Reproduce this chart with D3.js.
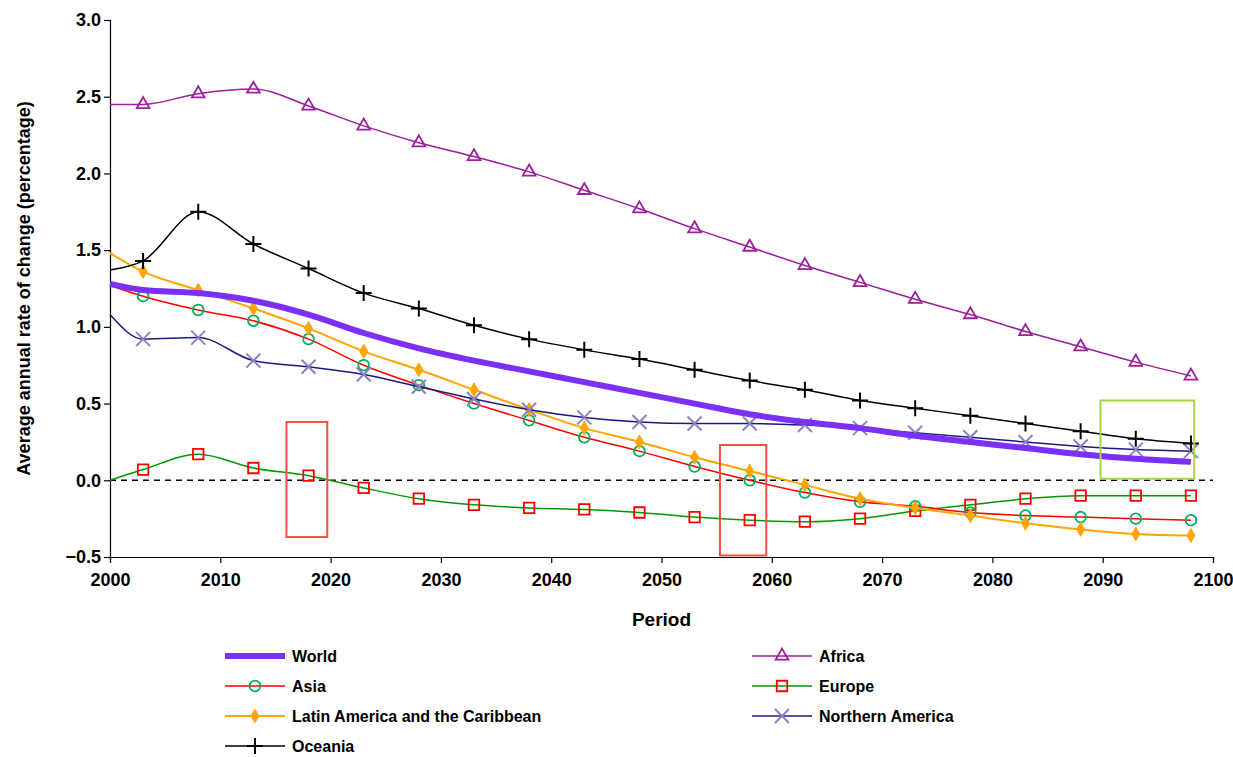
<!DOCTYPE html><html><head><meta charset="utf-8">
<script src="https://cdn.jsdelivr.net/npm/d3@7"></script>
<style>body{margin:0;background:#fff}text{font-family:"Liberation Sans",Arial,sans-serif;font-weight:bold}</style></head>
<body><svg id="c" width="1233" height="757"></svg>
<script>
const years=[2000,2003,2008,2013,2018,2023,2028,2033,2038,2043,2048,2053,2058,2063,2068,2073,2078,2083,2088,2093,2098];
const world=[1.28,1.24,1.22,1.17,1.08,0.96,0.86,0.78,0.71,0.64,0.57,0.50,0.43,0.38,0.34,0.29,0.25,0.21,0.17,0.14,0.12];
const africa=[2.45,2.45,2.52,2.55,2.44,2.31,2.20,2.11,2.01,1.89,1.77,1.64,1.52,1.40,1.29,1.18,1.08,0.97,0.87,0.77,0.68];
const asia=[1.27,1.20,1.11,1.04,0.92,0.75,0.62,0.50,0.39,0.28,0.19,0.09,0.00,-0.08,-0.14,-0.17,-0.21,-0.23,-0.24,-0.25,-0.26];
const europe=[0.0,0.07,0.17,0.08,0.03,-0.05,-0.12,-0.16,-0.18,-0.19,-0.21,-0.24,-0.26,-0.27,-0.25,-0.20,-0.16,-0.12,-0.10,-0.10,-0.10];
const latam=[1.48,1.36,1.24,1.12,0.99,0.84,0.72,0.59,0.46,0.34,0.25,0.15,0.06,-0.03,-0.12,-0.18,-0.23,-0.28,-0.32,-0.35,-0.36];
const namerica=[1.08,0.92,0.93,0.78,0.74,0.69,0.61,0.53,0.46,0.41,0.38,0.37,0.37,0.36,0.34,0.31,0.28,0.25,0.22,0.20,0.19];
const oceania=[1.37,1.43,1.75,1.54,1.38,1.22,1.12,1.01,0.92,0.85,0.79,0.72,0.65,0.59,0.52,0.47,0.42,0.37,0.32,0.27,0.24];
const xTicks=d3.range(2000,2101,10), yTicks=d3.range(-0.5,3.01,0.5);
const boxes=[{x0:2016,x1:2019.7,y0:0.38,y1:-0.37,c:"#f05040"},{x0:2055.3,x1:2059.5,y0:0.23,y1:-0.49,c:"#f05040"},{x0:2089.8,x1:2098.3,y0:0.52,y1:0.01,c:"#a8d840"}];

const svg=d3.select("#c");
const x=d3.scaleLinear().domain([2000,2100]).range([110,1213]);
const y=d3.scaleLinear().domain([-0.5,3]).range([557,20]);
const ax=svg.append("g").attr("transform","translate(0,557)").call(d3.axisBottom(x).tickValues(xTicks).tickFormat(d3.format("d")).tickSize(6));
const ay=svg.append("g").attr("transform","translate(110,0)").call(d3.axisLeft(y).tickValues(yTicks).tickFormat(d3.format(".1f")).tickSize(6));
[ax,ay].forEach(a=>{a.selectAll("path,line").attr("stroke","#000").attr("stroke-width",1.2);a.selectAll("text").attr("font-size",18).attr("fill","#000").style("font-weight","bold");});
ax.selectAll("text").attr("dy","1.1em");
svg.append("line").attr("x1",x(2000)).attr("x2",x(2100)).attr("y1",y(0)).attr("y2",y(0)).attr("stroke","#000").attr("stroke-width",1.5).attr("stroke-dasharray","6,5");
svg.append("text").attr("x",x(2050)).attr("y",626).attr("text-anchor","middle").attr("font-size",19).text("Period");
svg.append("text").attr("transform","translate(30,"+y(1.25)+") rotate(-90)").attr("text-anchor","middle").attr("font-size",18).text("Average annual rate of change (percentage)");

const line=d3.line().x((d,i)=>x(years[i])).y(d=>y(d)).curve(d3.curveMonotoneX);
const sym={tri:d3.symbol(d3.symbolTriangle,70)(),circ:d3.symbol(d3.symbolCircle,90)(),sq:d3.symbol(d3.symbolSquare,110)(),dia:d3.symbol(d3.symbolDiamond,55)()};
const series=[
{n:"World",v:world,lc:"#7b2ff7",lw:6,m:null,lx:225,ly:656},
{n:"Africa",v:africa,lc:"#9b1f9b",lw:1.5,m:"tri",ms:"#9b1f9b",mf:"none",lx:752,ly:656},
{n:"Asia",v:asia,lc:"#ff0000",lw:1.5,m:"circ",ms:"#00b060",mf:"none",lx:225,ly:686},
{n:"Europe",v:europe,lc:"#009900",lw:1.5,m:"sq",ms:"#ff0000",mf:"none",lx:752,ly:686},
{n:"Latin America and the Caribbean",v:latam,lc:"#ffa500",lw:2,m:"dia",ms:"#ffa500",mf:"#ffa500",lx:225,ly:716},
{n:"Northern America",v:namerica,lc:"#1a1a80",lw:1.5,m:"x",ms:"#9080c0",mf:"#9080c0",lx:752,ly:716},
{n:"Oceania",v:oceania,lc:"#000",lw:1.5,m:"plus",ms:"#000",mf:"none",lx:225,ly:746}];
function marker(g,s,cx,cy){
  if(s.m==="plus"){g.append("path").attr("d",`M${cx-8},${cy}H${cx+8}M${cx},${cy-8}V${cy+8}`).attr("stroke","#000").attr("stroke-width",2);return;}
  if(s.m==="x"){g.append("path").attr("d",`M${cx-7},${cy-7}L${cx+7},${cy+7}M${cx-7},${cy+7}L${cx+7},${cy-7}`).attr("stroke",s.ms).attr("stroke-width",2);return;}
  g.append("path").attr("d",sym[s.m]).attr("transform",`translate(${cx},${cy})`).attr("fill",s.mf==="none"?"none":s.mf).attr("stroke",s.ms).attr("stroke-width",s.m==="dia"?1:1.8);
}
const order=[3,2,4,5,6,0,1];
order.forEach(k=>{const s=series[k];
  svg.append("path").datum(s.v).attr("d",line).attr("fill","none").attr("stroke",s.lc).attr("stroke-width",s.lw);
  if(s.m){const g=svg.append("g");s.v.forEach((v,i)=>{if(i>0)marker(g,s,x(years[i]),y(v));});}
});
boxes.forEach(b=>svg.append("rect").attr("x",x(b.x0)).attr("y",y(b.y0)).attr("width",x(b.x1)-x(b.x0)).attr("height",y(b.y1)-y(b.y0)).attr("fill","none").attr("stroke",b.c).attr("stroke-width",2));

const lg=svg.append("g");
series.forEach(s=>{
  lg.append("line").attr("x1",s.lx).attr("x2",s.lx+60).attr("y1",s.ly).attr("y2",s.ly).attr("stroke",s.lc).attr("stroke-width",s.lw);
  if(s.m)marker(lg,s,s.lx+30,s.ly);
  lg.append("text").attr("x",s.lx+67).attr("y",s.ly+6).attr("font-size",16).text(s.n);
});
</script></body></html>
